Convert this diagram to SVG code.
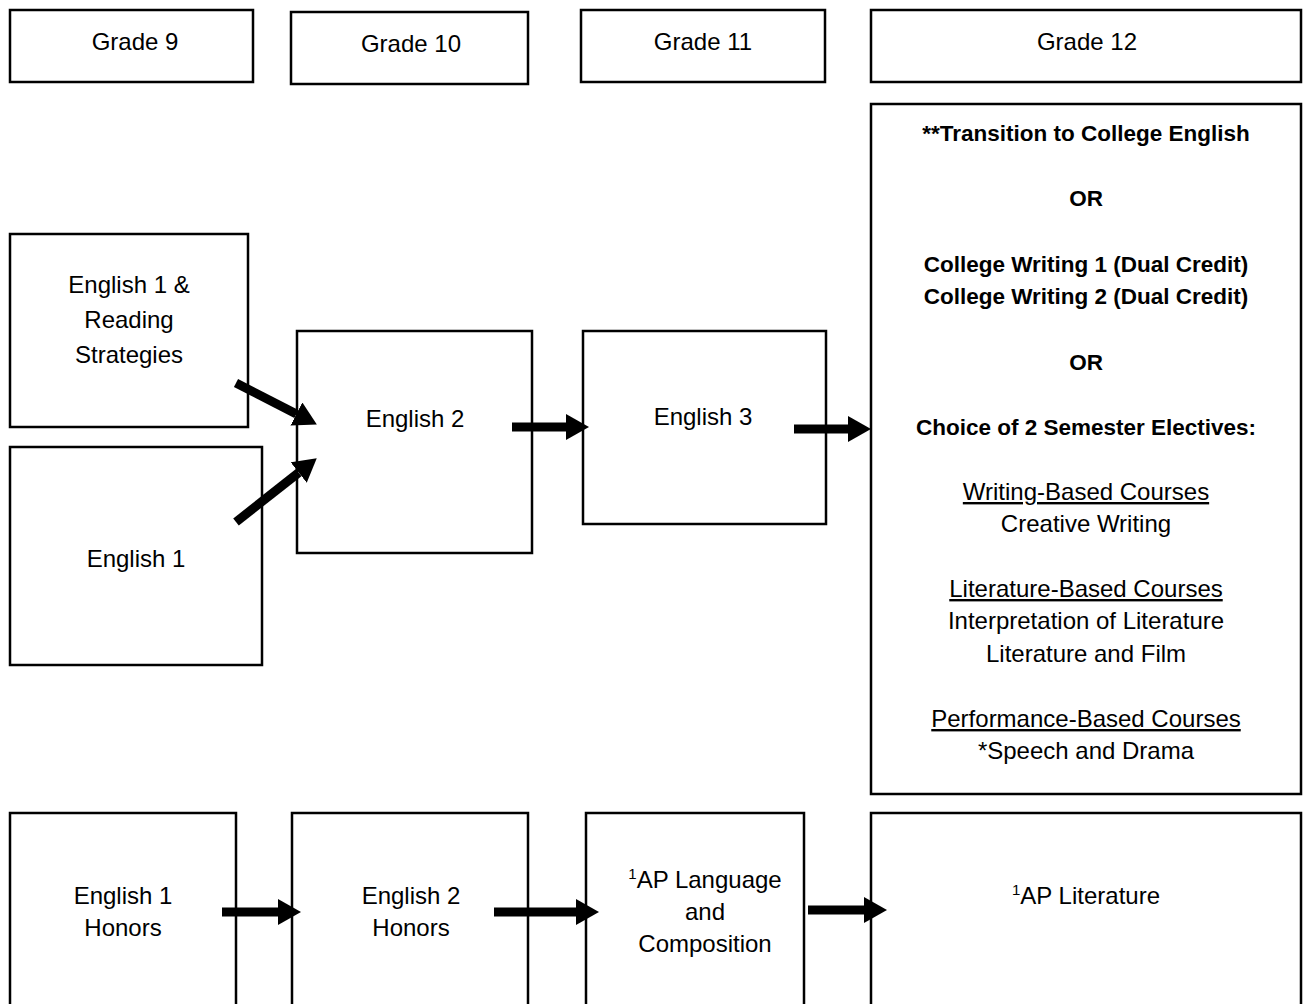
<svg xmlns="http://www.w3.org/2000/svg" width="1303" height="1004" viewBox="0 0 1303 1004">
<defs>
<style>
.box{fill:#fff;stroke:#000;stroke-width:2.5}
.t{font-family:"Liberation Sans",Arial,sans-serif;font-size:24px;fill:#000;text-anchor:middle}
.b{font-weight:bold;font-size:22.5px}
.u{text-decoration:underline}
.sup{font-size:15px}
.conn{stroke:#000;stroke-width:9;fill:none;marker-end:url(#ah)}
</style>
<marker id="ah" markerUnits="userSpaceOnUse" markerWidth="23" markerHeight="26" refX="0" refY="13" orient="auto">
<path d="M0,0 L23,13 L0,26 z" fill="#000"/>
</marker>
</defs>
<rect width="1303" height="1004" fill="#fff"/>
<g id="grade9"><rect class="box" x="10" y="10" width="243" height="72"/><text class="t" x="135" y="50">Grade 9</text></g>
<g id="grade10"><rect class="box" x="291" y="12" width="237" height="72"/><text class="t" x="411" y="52">Grade 10</text></g>
<g id="grade11"><rect class="box" x="581" y="10" width="244" height="72"/><text class="t" x="703" y="50">Grade 11</text></g>
<g id="grade12"><rect class="box" x="871" y="10" width="430" height="72"/><text class="t" x="1087" y="50">Grade 12</text></g>
<g id="english1rs"><rect class="box" x="10" y="234" width="238" height="193"/>
<text class="t" x="129" y="293">English 1 &amp;</text>
<text class="t" x="129" y="328">Reading</text>
<text class="t" x="129" y="363">Strategies</text></g>
<g id="english1"><rect class="box" x="10" y="447" width="252" height="218"/><text class="t" x="136" y="567">English 1</text></g>
<g id="english2"><rect class="box" x="297" y="331" width="235" height="222"/><text class="t" x="415" y="427">English 2</text></g>
<g id="english3"><rect class="box" x="583" y="331" width="243" height="193"/><text class="t" x="703" y="425">English 3</text></g>
<g id="grade12options"><rect class="box" x="871" y="104" width="430" height="690"/>
<text class="t b" x="1086" y="141">**Transition to College English</text>
<text class="t b" x="1086" y="206">OR</text>
<text class="t b" x="1086" y="272">College Writing 1 (Dual Credit)</text>
<text class="t b" x="1086" y="304">College Writing 2 (Dual Credit)</text>
<text class="t b" x="1086" y="370">OR</text>
<text class="t b" x="1086" y="435">Choice of 2 Semester Electives:</text>
<text class="t u" x="1086" y="500">Writing-Based Courses</text>
<text class="t" x="1086" y="532">Creative Writing</text>
<text class="t u" x="1086" y="597">Literature-Based Courses</text>
<text class="t" x="1086" y="629">Interpretation of Literature</text>
<text class="t" x="1086" y="662">Literature and Film</text>
<text class="t u" x="1086" y="727">Performance-Based Courses</text>
<text class="t" x="1086" y="759">*Speech and Drama</text></g>
<g id="english1honors"><rect class="box" x="10" y="813" width="226" height="200"/>
<text class="t" x="123" y="904">English 1</text><text class="t" x="123" y="936">Honors</text></g>
<g id="english2honors"><rect class="box" x="292" y="813" width="236" height="200"/>
<text class="t" x="411" y="904">English 2</text><text class="t" x="411" y="936">Honors</text></g>
<g id="aplang"><rect class="box" x="586" y="813" width="218" height="200"/>
<text class="t" x="705" y="888"><tspan class="sup" dy="-9">1</tspan><tspan dy="9">AP Language</tspan></text>
<text class="t" x="705" y="920">and</text>
<text class="t" x="705" y="952">Composition</text></g>
<g id="aplit"><rect class="box" x="871" y="813" width="430" height="200"/>
<text class="t" x="1086" y="904"><tspan class="sup" dy="-9">1</tspan><tspan dy="9">AP Literature</tspan></text></g>
<g id="connectors">
<line class="conn" x1="236" y1="383" x2="296.4" y2="414"/>
<line class="conn" x1="236" y1="522" x2="298.7" y2="472.6"/>
<line class="conn" x1="512" y1="427" x2="566" y2="427"/>
<line class="conn" x1="794" y1="429" x2="848" y2="429"/>
<line class="conn" x1="222" y1="912" x2="278" y2="912"/>
<line class="conn" x1="494" y1="912" x2="576" y2="912"/>
<line class="conn" x1="808" y1="910" x2="864" y2="910"/>
</g>
</svg>
